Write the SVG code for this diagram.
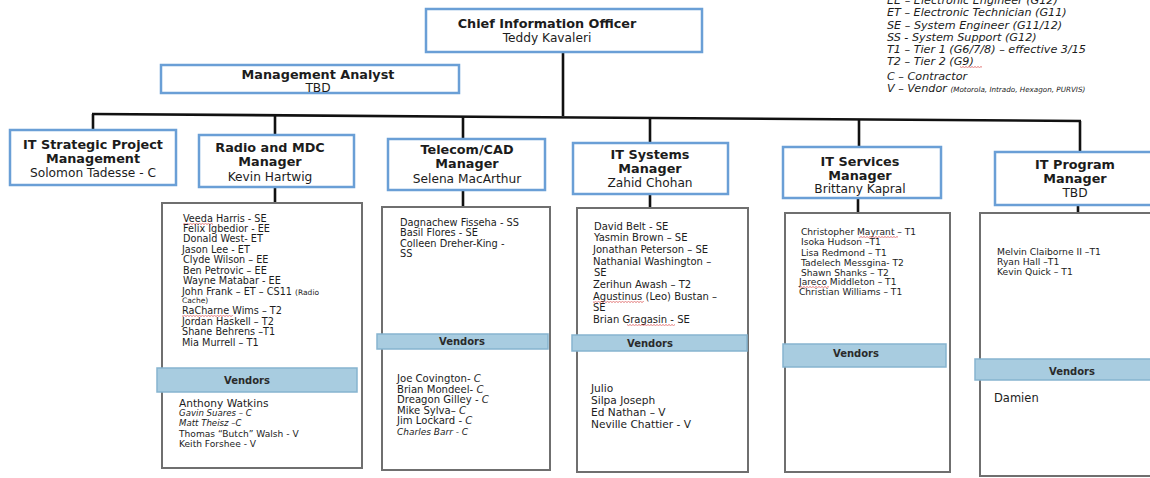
<svg xmlns="http://www.w3.org/2000/svg" width="1150" height="478" viewBox="0 0 1150 478">
  <style>
    .mgr { fill: #ffffff; stroke: #6a9fd6; stroke-width: 2.5; }
    .list { fill: #ffffff; stroke: #6f6f6f; stroke-width: 2; }
    .bar { fill: #a8cce0; stroke: #86b4cf; stroke-width: 1.5; }
    .wire { stroke: #111; stroke-width: 2.6; fill: none; }
    text { font-family: "DejaVu Sans", Verdana, sans-serif; fill: #1c1c1c; }
    .t { font-weight: bold; font-size: 12.8px; text-anchor: middle; }
    .n { font-size: 12.2px; text-anchor: middle; }
    .v { font-weight: bold; font-size: 10px; text-anchor: middle; fill: #2a2a2a; }
    .lg { font-style: italic; font-size: 11.2px; }
    .it { font-style: italic; }
  </style>

  <defs>
    <!-- short red squiggle used under flagged words -->
    <pattern id="squiggle" width="3" height="2" patternUnits="userSpaceOnUse">
      <path d="M0 0.5 L1.5 1.7 L3 0.5" stroke="#d02020" stroke-width="0.6" fill="none"/>
    </pattern>
  </defs>

  <!-- connectors -->
  <g id="connectors">
    <line class="wire" x1="563" y1="52" x2="563" y2="116"/>
    <line class="wire" x1="92" y1="114" x2="1081" y2="121"/>
    <line class="wire" x1="93" y1="114" x2="93" y2="131"/>
    <line class="wire" x1="275" y1="115" x2="275" y2="135"/>
    <line class="wire" x1="463" y1="117" x2="463" y2="139"/>
    <line class="wire" x1="650" y1="118" x2="650" y2="143"/>
    <line class="wire" x1="859" y1="120" x2="859" y2="147"/>
    <line class="wire" x1="1080" y1="121" x2="1080" y2="152"/>
    <line class="wire" x1="275" y1="187" x2="275" y2="203"/>
    <line class="wire" x1="463" y1="190" x2="463" y2="207"/>
    <line class="wire" x1="650" y1="194" x2="650" y2="208"/>
    <line class="wire" x1="858" y1="198" x2="858" y2="213"/>
    <line class="wire" x1="1078" y1="205" x2="1078" y2="213"/>
  </g>

  <!-- legend -->
  <g id="legend">
    <text class="lg" x="887" y="4">EE – Electronic Engineer (G12)</text>
    <text class="lg" x="887" y="16">ET – Electronic Technician (G11)</text>
    <text class="lg" x="887" y="29">SE – System Engineer (G11/12)</text>
    <text class="lg" x="887" y="41">SS - System Support (G12)</text>
    <text class="lg" x="887" y="53">T1 – Tier 1 (G6/7/8) – effective 3/15</text>
    <text class="lg" x="887" y="65">T2 – Tier 2 (G9)</text>
    <rect x="960" y="66" width="22" height="2" fill="url(#squiggle)"/>
    <text class="lg" x="887" y="80">C – Contractor</text>
    <text class="lg" x="887" y="92">V – Vendor <tspan font-size="7.2">(Motorola, Intrado, Hexagon, PURVIS)</tspan></text>
  </g>

  <!-- executive -->
  <g id="cio">
    <rect class="mgr" x="426" y="9" width="276" height="43"/>
    <text class="t" x="547" y="28" font-size="14.3">Chief Information Officer</text>
    <text class="n" x="547" y="42" font-size="13">Teddy Kavaleri</text>
  </g>

  <g id="management-analyst">
    <rect class="mgr" x="161" y="65" width="298" height="28"/>
    <text class="t" x="318" y="79" font-size="12.6">Management Analyst</text>
    <text class="n" x="318" y="92" font-size="11.5">TBD</text>
  </g>

  <!-- managers -->
  <g id="strategic">
    <rect class="mgr" x="10" y="130" width="166" height="55"/>
    <text class="t" x="93" y="149">IT Strategic Project</text>
    <text class="t" x="93" y="163">Management</text>
    <text class="n" x="93" y="177">Solomon Tadesse - C</text>
  </g>

  <g id="radio">
    <rect class="mgr" x="199" y="135" width="155" height="52"/>
    <text class="t" x="270" y="152">Radio and MDC</text>
    <text class="t" x="270" y="166">Manager</text>
    <text class="n" x="270" y="181">Kevin Hartwig</text>
  </g>

  <g id="telecom">
    <rect class="mgr" x="388" y="139" width="157" height="51"/>
    <text class="t" x="467" y="154">Telecom/CAD</text>
    <text class="t" x="467" y="168">Manager</text>
    <text class="n" x="467" y="183">Selena MacArthur</text>
  </g>

  <g id="systems">
    <rect class="mgr" x="573" y="143" width="155" height="51"/>
    <text class="t" x="650" y="159">IT Systems</text>
    <text class="t" x="650" y="173">Manager</text>
    <text class="n" x="650" y="187">Zahid Chohan</text>
  </g>

  <g id="services">
    <rect class="mgr" x="783" y="147" width="158" height="51"/>
    <text class="t" x="860" y="166">IT Services</text>
    <text class="t" x="860" y="180">Manager</text>
    <text class="n" x="860" y="193">Brittany Kapral</text>
  </g>

  <g id="program">
    <rect class="mgr" x="995" y="152" width="162" height="53"/>
    <text class="t" x="1075" y="169">IT Program</text>
    <text class="t" x="1075" y="183">Manager</text>
    <text class="n" x="1075" y="197">TBD</text>
  </g>

  <!-- staff lists -->
  <g id="radio-staff" font-size="9.7">
    <rect class="list" x="162" y="203" width="200" height="265"/>
    <text x="183" y="222">Veeda Harris - SE</text>
    <rect x="183" y="223" width="30" height="2" fill="url(#squiggle)"/>
    <text x="183" y="232">Felix Igbedior - EE</text>
    <text x="183" y="242">Donald West- ET</text>
    <text x="182" y="253">Jason Lee - ET</text>
    <text x="183" y="263">Clyde Wilson – EE</text>
    <text x="183" y="274">Ben Petrovic – EE</text>
    <text x="183" y="284">Wayne Matabar - EE</text>
    <text x="182" y="295">John Frank – ET – CS11 <tspan font-size="7.5">(Radio</tspan></text>
    <text x="182" y="303" font-size="7.5">Cache)</text>
    <text x="182" y="314">RaCharne Wims – T2</text>
    <rect x="182" y="315" width="51" height="2" fill="url(#squiggle)"/>
    <text x="182" y="325">Jordan Haskell – T2</text>
    <text x="182" y="335">Shane Behrens –T1</text>
    <text x="182" y="346">Mia Murrell – T1</text>
    <rect class="bar" x="157" y="368" width="200" height="24"/>
    <text class="v" x="247" y="384">Vendors</text>
    <text x="179" y="407" font-size="10.6">Anthony Watkins</text>
    <text x="179" y="416" font-size="8.6" class="it">Gavin Suares – C</text>
    <text x="179" y="426" font-size="8.6" class="it">Matt Theisz –C</text>
    <text x="179" y="437" font-size="9.1">Thomas “Butch” Walsh - V</text>
    <text x="179" y="447" font-size="9.1">Keith Forshee - V</text>
  </g>

  <g id="telecom-staff" font-size="9.8">
    <rect class="list" x="382" y="207" width="168" height="263"/>
    <text x="400" y="226">Dagnachew Fisseha - SS</text>
    <text x="400" y="236">Basil Flores - SE</text>
    <text x="400" y="247">Colleen Dreher-King -</text>
    <text x="400" y="257">SS</text>
    <rect class="bar" x="377" y="334" width="171" height="15"/>
    <text class="v" x="462" y="345">Vendors</text>
    <g font-size="10.1">
      <text x="397" y="382">Joe Covington-  <tspan class="it">C</tspan></text>
      <text x="397" y="393">Brian Mondeel- <tspan class="it">C</tspan></text>
      <text x="397" y="403">Dreagon Gilley - <tspan class="it">C</tspan></text>
      <text x="397" y="414">Mike Sylva– <tspan class="it">C</tspan></text>
      <text x="397" y="424">Jim Lockard - <tspan class="it">C</tspan></text>
    </g>
    <text x="397" y="435" class="it" font-size="9">Charles Barr - C</text>
  </g>

  <g id="systems-staff" font-size="10">
    <rect class="list" x="577" y="208" width="171" height="264"/>
    <text x="594" y="230">David Belt - SE</text>
    <text x="594" y="241">Yasmin Brown – SE</text>
    <text x="593" y="253">Jonathan Peterson – SE</text>
    <text x="593" y="265">Nathanial Washington –</text>
    <text x="594" y="276">SE</text>
    <text x="593" y="288">Zerihun Awash – T2</text>
    <text x="593" y="300">Agustinus (Leo) Bustan –</text>
    <rect x="593" y="301" width="51" height="2" fill="url(#squiggle)"/>
    <text x="593" y="311">SE</text>
    <text x="593" y="323">Brian Gragasin - SE</text>
    <rect x="627" y="324" width="48" height="2" fill="url(#squiggle)"/>
    <rect class="bar" x="572" y="335" width="175" height="16"/>
    <text class="v" x="650" y="347">Vendors</text>
    <g font-size="10.6">
      <text x="591" y="392">Julio</text>
      <text x="591" y="404">Silpa Joseph</text>
      <text x="591" y="416">Ed Nathan – V</text>
      <text x="591" y="428">Neville Chattier - V</text>
    </g>
  </g>

  <g id="services-staff" font-size="9.1">
    <rect class="list" x="785" y="213" width="165" height="259"/>
    <text x="801" y="235">Christopher Mayrant – T1</text>
    <rect x="859" y="236" width="39" height="2" fill="url(#squiggle)"/>
    <text x="801" y="245">Isoka Hudson –T1</text>
    <text x="801" y="256">Lisa Redmond – T1</text>
    <text x="801" y="266">Tadelech Messgina- T2</text>
    <text x="801" y="276">Shawn Shanks – T2</text>
    <text x="799" y="285">Jareco Middleton – T1</text>
    <rect x="799" y="286" width="30" height="2" fill="url(#squiggle)"/>
    <text x="799" y="295">Christian Williams – T1</text>
    <rect class="bar" x="783" y="344" width="163" height="23"/>
    <text class="v" x="856" y="357">Vendors</text>
  </g>

  <g id="program-staff" font-size="9.2">
    <rect class="list" x="980" y="213" width="180" height="263"/>
    <text x="997" y="255">Melvin Claiborne II –T1</text>
    <text x="997" y="265">Ryan Hall –T1</text>
    <text x="997" y="275">Kevin Quick – T1</text>
    <rect class="bar" x="975" y="359" width="185" height="21"/>
    <text class="v" x="1072" y="375">Vendors</text>
    <text x="994" y="402" font-size="11.5">Damien</text>
  </g>
</svg>
